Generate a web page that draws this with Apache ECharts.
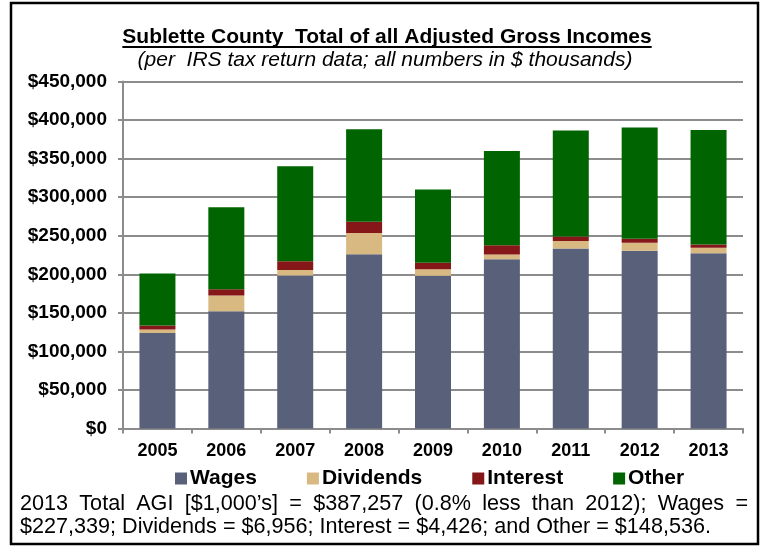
<!DOCTYPE html>
<html>
<head>
<meta charset="utf-8">
<title>Sublette County AGI</title>
<script src="https://cdn.jsdelivr.net/npm/echarts@6.0.0/dist/echarts.min.js"></script>
<style>
  html, body { margin: 0; padding: 0; background: #fff; }
  #bar { width: 764px; height: 546px; }
</style>
</head>
<body>
<div id="bar"></div>
<script>
// 数据 (in $ thousands)
var years = ['2005', '2006', '2007', '2008', '2009', '2010', '2011', '2012', '2013'];
var wages = [124000, 152000, 198500, 226000, 198000, 219500, 233500, 230500, 227339];
var dividends = [4500, 20500, 7000, 27500, 8500, 6000, 9500, 10500, 6956];
var interest = [5000, 8000, 11500, 14500, 8500, 12000, 6000, 5000, 4426];
var other = [67500, 106500, 123000, 120000, 95000, 122500, 137500, 144500, 148536];
var seriesNames = ['Wages', 'Dividends', 'Interest', 'Other'];
var colors = ['#58607a', '#d9b982', '#861719', '#006400'];

var titleText = 'Sublette County  Total of all Adjusted Gross Incomes';
var subText = '(per  IRS tax return data; all numbers in $ thousands)';
var noteLine1 = '2013 Total AGI [$1,000\u2019s] = $387,257 (0.8% less than 2012); Wages =';
var noteLine2 = '$227,339; Dividends = $6,956; Interest = $4,426; and Other = $148,536.';

var FONT = '"Liberation Sans", Arial, sans-serif';

// 文字宽度
var ctx = document.createElement('canvas').getContext('2d');
function textWidth(str, font) {
  ctx.font = font;
  return ctx.measureText(str).width;
}

var graphics = [];

// outer frame
graphics.push({
  type: 'rect',
  shape: { x: 11, y: 3, width: 747, height: 541 },
  style: { fill: null, stroke: '#000', lineWidth: 2.5 },
  silent: true
});

// title + underline
var titleFont = 'bold 21px ' + FONT;
var tw = textWidth(titleText, titleFont);
graphics.push({
  type: 'text',
  x: 387, y: 37,
  style: { text: titleText, font: titleFont, fill: '#000', align: 'center', verticalAlign: 'middle' }
});
graphics.push({
  type: 'line',
  shape: { x1: 387 - tw / 2, y1: 47, x2: 387 + tw / 2, y2: 47 },
  style: { stroke: '#000', lineWidth: 2 }
});
graphics.push({
  type: 'text',
  x: 385, y: 60,
  style: { text: subText, font: 'italic 21px ' + FONT, fill: '#000', align: 'center', verticalAlign: 'middle' }
});

// footnote, first line justified
var noteFont = '21.6px ' + FONT;
var words = noteLine1.split(' ');
var left = 20, right = 748;
var sum = 0;
words.forEach(function (w) { sum += textWidth(w, noteFont); });
var gap = (right - left - sum) / (words.length - 1);
var xx = left;
words.forEach(function (w) {
  graphics.push({
    type: 'text',
    x: xx, y: 504,
    style: { text: w, font: noteFont, fill: '#000', align: 'left', verticalAlign: 'middle' }
  });
  xx += textWidth(w, noteFont) + gap;
});
graphics.push({
  type: 'text',
  x: left, y: 527,
  style: { text: noteLine2, font: noteFont, fill: '#000', align: 'left', verticalAlign: 'middle' }
});

function barSeries(name, data, color) {
  return {
    name: name,
    type: 'bar',
    stack: 'agi',
    barWidth: 36,
    data: data,
    itemStyle: { color: color }
  };
}

var myBarChart = echarts.init(document.getElementById('bar'));
var option = {
  animation: false,
  color: colors,
  textStyle: { fontFamily: FONT },
  grid: { left: 123, right: 21, top: 81.5, bottom: 117.5 },
  legend: {
    data: seriesNames,
    left: 170,
    top: 463,
    icon: 'rect',
    itemWidth: 12,
    itemHeight: 12,
    itemGap: 50,
    textStyle: { fontFamily: FONT, fontWeight: 'bold', fontSize: 21, color: '#000', padding: [0, 0, 0, -2] }
  },
  xAxis: {
    type: 'category',
    data: years,
    axisLine: { lineStyle: { color: '#8c8c8c', width: 2 } },
    axisTick: { show: true, length: 5, alignWithLabel: false, lineStyle: { color: '#8c8c8c', width: 2 } },
    axisLabel: { color: '#000', fontWeight: 'bold', fontSize: 18, fontFamily: FONT, margin: 14 }
  },
  yAxis: {
    type: 'value',
    min: 0,
    max: 450000,
    interval: 50000,
    axisLine: { show: true, lineStyle: { color: '#8c8c8c', width: 2 } },
    axisTick: { show: true, length: 5, lineStyle: { color: '#8c8c8c', width: 2 } },
    splitLine: { show: true, lineStyle: { color: '#8c8c8c', width: 2 } },
    axisLabel: {
      color: '#000', fontWeight: 'bold', fontSize: 19, fontFamily: FONT, margin: 16,
      formatter: function (v) {
        return '$' + v.toString().replace(/\B(?=(\d{3})+(?!\d))/g, ',');
      }
    }
  },
  series: [
    barSeries('Wages', wages, colors[0]),
    barSeries('Dividends', dividends, colors[1]),
    barSeries('Interest', interest, colors[2]),
    barSeries('Other', other, colors[3])
  ],
  graphic: graphics
};
myBarChart.setOption(option);
</script>
</body>
</html>
